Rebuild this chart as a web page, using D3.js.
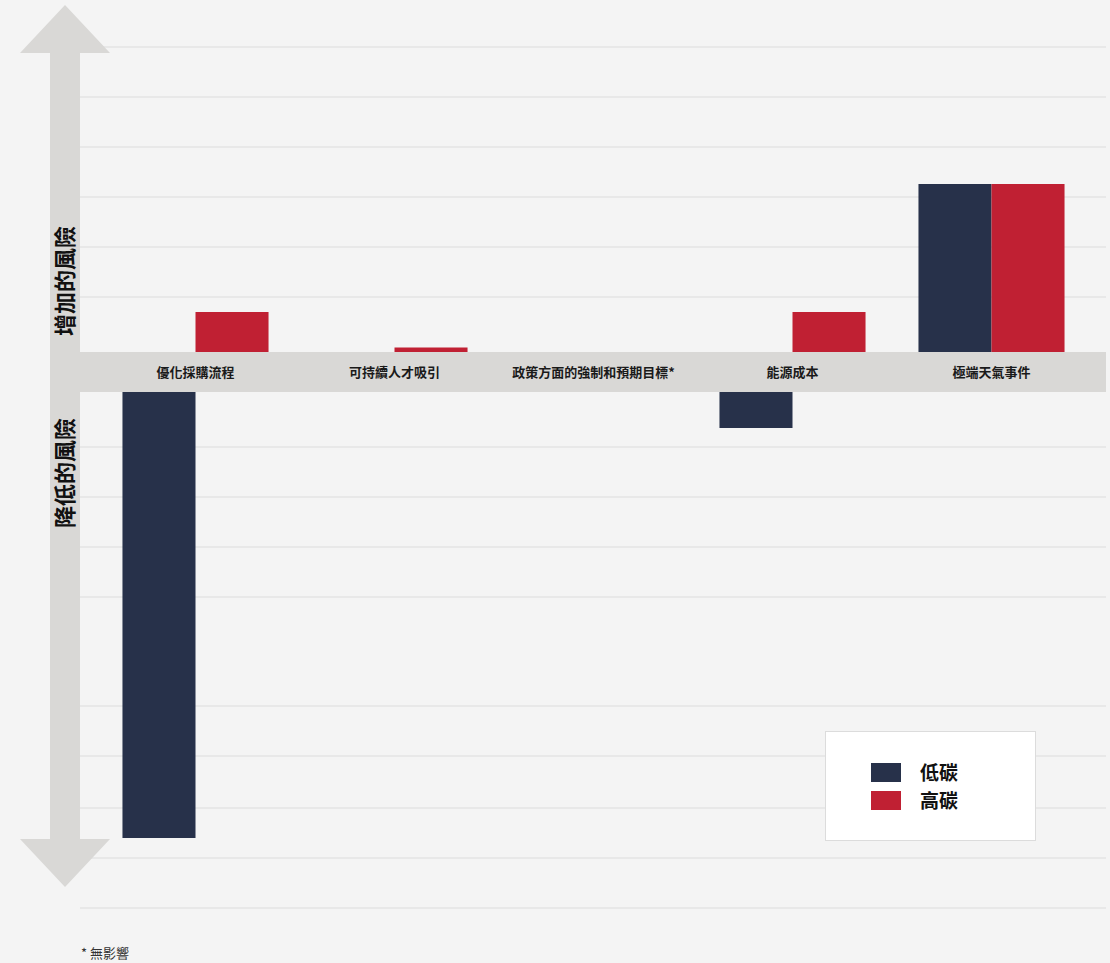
<!DOCTYPE html>
<html>
<head>
<meta charset="utf-8">
<script src="https://cdn.jsdelivr.net/npm/d3@7"></script>
<style>
  body { margin: 0; background: #f4f4f4; }
  svg { display: block; font-family: "Noto Sans CJK TC", "Noto Sans", sans-serif; }
</style>
</head>
<body>
<div id="chart"></div>
<script>
var w = 1110,
	h = 963;

// Data
var categories = ['優化採購流程', '可持續人才吸引', '政策方面的強制和預期目標*', '能源成本', '極端天氣事件'];
var seriesNames = ['低碳', '高碳'];
var lowCarbon = [-8.92, 0, 0, -0.72, 3.36];
var highCarbon = [0.8, 0.09, 0, 0.8, 3.36];
var gridUp = [1.1, 2.1, 3.1, 4.1, 5.1, 6.1];
var gridDown = [1.1, 2.1, 3.1, 4.1, 6.28, 7.28, 8.32, 9.32, 10.32];

var colors = { '低碳': '#27314a', '高碳': '#c02033' };
var bandTop = 352, bandBottom = 392;

var svg = d3.select('#chart')
	.append('svg')
	.attr('width', w)
	.attr('height', h);

svg.append('rect')
	.attr('width', w).attr('height', h)
	.attr('fill', '#f4f4f4');

// scales: positive values grow up from the top of the band, negatives down from its bottom
var yUp = d3.scaleLinear().domain([0, 7]).range([bandTop, bandTop - 350]);
var yDown = d3.scaleLinear().domain([0, 10]).range([bandBottom, bandBottom + 500]);

var x0 = d3.scaleBand()
	.domain(categories)
	.range([96, 1091])
	.paddingInner(0.266)
	.paddingOuter(0.133);

var x1 = d3.scaleBand()
	.domain(seriesNames)
	.range([0, x0.bandwidth()]);

// gridlines
svg.append('g').selectAll('line')
	.data(gridUp.map(yUp).concat(gridDown.map(yDown)))
	.enter().append('line')
	.attr('x1', 80).attr('x2', 1106)
	.attr('y1', function(d) { return d; })
	.attr('y2', function(d) { return d; })
	.attr('stroke', '#dcdcdc')
	.attr('stroke-width', 1.2);

// double arrow
var arrow = svg.append('g').attr('fill', '#d9d8d6');
arrow.append('rect').attr('x', 50).attr('y', 52).attr('width', 30).attr('height', 788);
arrow.append('path').attr('d', 'M20,53 L65,5 L110,53 Z');
arrow.append('path').attr('d', 'M20,839 L65,887 L110,839 Z');

// category band
svg.append('rect')
	.attr('x', 80).attr('y', bandTop)
	.attr('width', 1026).attr('height', bandBottom - bandTop)
	.attr('fill', '#d9d8d6');

// bars
var rows = categories.map(function(c, i) {
	return { cat: c, values: [
		{ key: '低碳', value: lowCarbon[i] },
		{ key: '高碳', value: highCarbon[i] }
	]};
});

var groups = svg.append('g').selectAll('g')
	.data(rows)
	.enter().append('g')
	.attr('transform', function(d) { return 'translate(' + x0(d.cat) + ',0)'; });

groups.selectAll('rect')
	.data(function(d) { return d.values.filter(function(v) { return v.value !== 0; }); })
	.enter().append('rect')
	.attr('x', function(d) { return x1(d.key); })
	.attr('width', x1.bandwidth())
	.attr('y', function(d) { return d.value > 0 ? yUp(d.value) : bandBottom; })
	.attr('height', function(d) {
		return d.value > 0 ? bandTop - yUp(d.value) : yDown(-d.value) - bandBottom;
	})
	.attr('fill', function(d) { return colors[d.key]; });

// category labels
svg.append('g').selectAll('text')
	.data(categories)
	.enter().append('text')
	.attr('x', function(d) { return x0(d) + x0.bandwidth() / 2; })
	.attr('y', 377)
	.attr('text-anchor', 'middle')
	.attr('font-size', '13px')
	.attr('font-weight', 'bold')
	.attr('fill', '#1a1a1a')
	.text(function(d) { return d; });

// arrow titles
svg.append('text')
	.attr('transform', 'translate(73,281) rotate(-90)')
	.attr('text-anchor', 'middle')
	.attr('font-size', '22px')
	.attr('font-weight', 'bold')
	.attr('fill', '#111')
	.text('增加的風險');

svg.append('text')
	.attr('transform', 'translate(73,473) rotate(-90)')
	.attr('text-anchor', 'middle')
	.attr('font-size', '22px')
	.attr('font-weight', 'bold')
	.attr('fill', '#111')
	.text('降低的風險');

// legend
var legend = svg.append('g').attr('class', 'legend');
legend.append('rect')
	.attr('x', 825.5).attr('y', 731.5)
	.attr('width', 210).attr('height', 109)
	.attr('fill', '#fff')
	.attr('stroke', '#dcdcdc');
legend.selectAll('rect.sw')
	.data(seriesNames)
	.enter().append('rect')
	.attr('class', 'sw')
	.attr('x', 871)
	.attr('y', function(d, i) { return 763 + i * 28; })
	.attr('width', 30)
	.attr('height', 19)
	.attr('fill', function(d) { return colors[d]; });
legend.selectAll('text')
	.data(seriesNames)
	.enter().append('text')
	.attr('x', 920)
	.attr('y', function(d, i) { return 780 + i * 28; })
	.attr('font-size', '19px')
	.attr('font-weight', 'bold')
	.attr('fill', '#111')
	.text(function(d) { return d; });

// footnote
svg.append('text')
	.attr('x', 81)
	.attr('y', 958)
	.attr('font-size', '13px')
	.attr('fill', '#333')
	.text('* 無影響');
</script>
</body>
</html>
